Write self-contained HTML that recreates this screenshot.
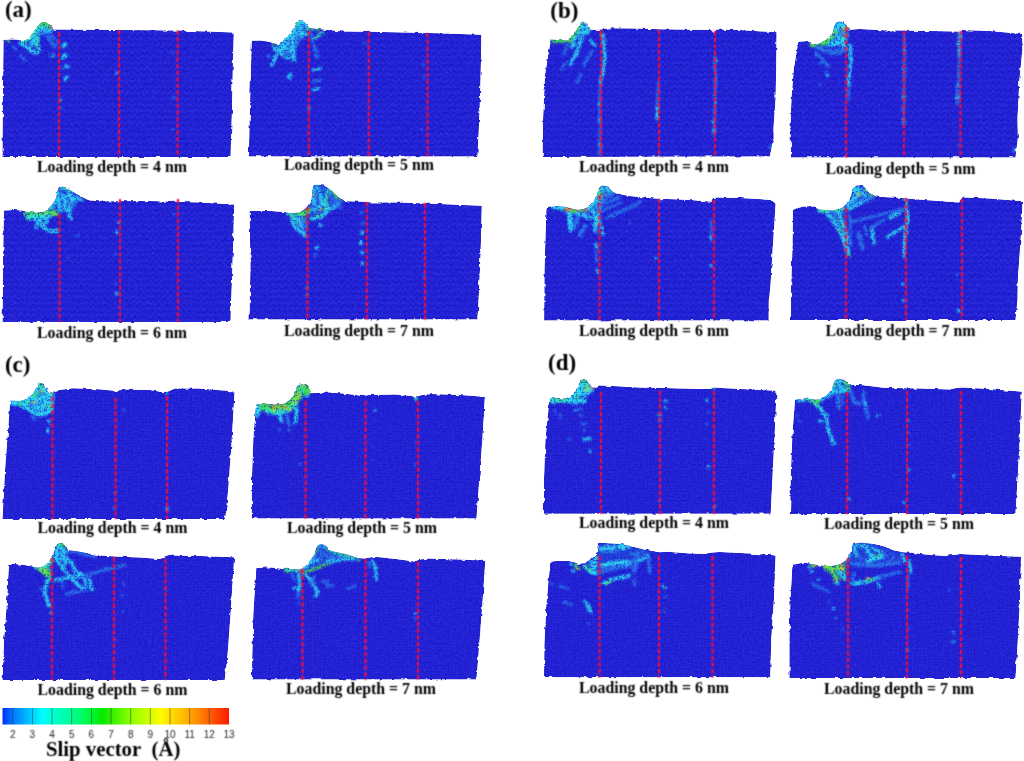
<!DOCTYPE html>
<html><head><meta charset="utf-8"><title>Slip vector figure</title>
<style>
html,body{margin:0;padding:0;background:#fff;}
body{width:1024px;height:761px;overflow:hidden;font-family:"Liberation Serif",serif;}
svg{display:block;position:absolute;left:0;top:0;}
text{filter:url(#soft);}
.cap{font-family:"Liberation Serif",serif;font-weight:bold;font-size:16.3px;fill:#000;text-anchor:middle;}
.lab{font-family:"Liberation Serif",serif;font-weight:bold;font-size:23px;fill:#000;}
.tick{font-family:"Liberation Sans",sans-serif;font-size:10px;fill:#1c1c1c;text-anchor:middle;}
.ttl{font-family:"Liberation Serif",serif;font-weight:bold;font-size:20.8px;fill:#000;}
.rl{stroke:#ff0c36;stroke-width:2.1;stroke-dasharray:4.4 2.25;fill:none;}
.ru{stroke:#b81c60;stroke-width:3.2;stroke-dasharray:5.9 0.8;stroke-dashoffset:0.65;fill:none;opacity:0.5;}
.bk{fill:#2121d3;stroke:#2121d3;stroke-width:0;}
</style></head><body>
<svg width="1024" height="761" viewBox="0 0 1024 761">
<defs>
<filter id="rough" x="-2%" y="-4%" width="104%" height="108%" color-interpolation-filters="sRGB"><feTurbulence type="fractalNoise" baseFrequency="0.17" numOctaves="2" seed="3" result="n"/><feDisplacementMap in="SourceGraphic" in2="n" scale="3.2" xChannelSelector="R" yChannelSelector="G" result="d"/><feTurbulence type="fractalNoise" baseFrequency="0.42" numOctaves="2" seed="11" result="t"/><feColorMatrix in="t" type="matrix" values="1 0 0 0 0  1 0 0 0 0  1 0 0 0 0  0 0 0 0 1" result="tg"/><feComposite in="d" in2="tg" operator="arithmetic" k1="0" k2="1" k3="0.095" k4="-0.0475" result="c"/><feComposite in="c" in2="d" operator="in"/></filter>
<filter id="b1" x="-10%" y="-10%" width="120%" height="120%" color-interpolation-filters="sRGB"><feGaussianBlur in="SourceGraphic" stdDeviation="0.95" result="b"/><feTurbulence type="fractalNoise" baseFrequency="0.5" numOctaves="2" seed="5" result="n"/><feColorMatrix in="n" type="matrix" values="0 0 0 0 1  0 0 0 0 1  0 0 0 0 1  5.5 0 0 0 -1.75" result="m"/><feComposite in="b" in2="m" operator="in" result="bm"/><feColorMatrix in="b" type="matrix" values="1 0 0 0 0  0 1 0 0 0  0 0 1 0 0  0 0 0 0.42 0" result="bf"/><feMerge><feMergeNode in="bf"/><feMergeNode in="bm"/></feMerge></filter>
<filter id="soft" x="-5%" y="-20%" width="110%" height="140%" color-interpolation-filters="sRGB"><feConvolveMatrix order="3" kernelMatrix="1 2 1 2 8 2 1 2 1" divisor="20" edgeMode="none"/></filter>
<filter id="softl" x="-5%" y="-2%" width="110%" height="104%" color-interpolation-filters="sRGB"><feConvolveMatrix order="3" kernelMatrix="1 2 1 2 7 2 1 2 1" divisor="19" edgeMode="none"/></filter>
<pattern id="tx" width="6" height="6" patternUnits="userSpaceOnUse"><rect width="6" height="6" fill="#2121d3"/><path d="M0 4.5 L3 1.5 L6 4.5" stroke="#2f2fe2" stroke-width="1.1" fill="none" opacity="0.55"/><path d="M0 7 L3 4 L6 7 M0 1 L3 -2 L6 1" stroke="#1818be" stroke-width="1" fill="none" opacity="0.45"/></pattern>
<pattern id="tg" width="3" height="3" patternUnits="userSpaceOnUse"><rect width="3" height="3" fill="#2121d3"/><circle cx="1" cy="1" r="0.8" fill="#2f2fe2" opacity="0.5"/><circle cx="2.5" cy="2.5" r="0.7" fill="#1818be" opacity="0.4"/></pattern>
<linearGradient id="cb" x1="0" x2="1" y1="0" y2="0"><stop offset="0" stop-color="#0030ff"/><stop offset="0.045" stop-color="#0078ff"/><stop offset="0.132" stop-color="#00d0ff"/><stop offset="0.175" stop-color="#00fcff"/><stop offset="0.219" stop-color="#00ffd4"/><stop offset="0.306" stop-color="#00ff94"/><stop offset="0.392" stop-color="#00f838"/><stop offset="0.44" stop-color="#04e800"/><stop offset="0.479" stop-color="#30f000"/><stop offset="0.566" stop-color="#8cff00"/><stop offset="0.653" stop-color="#d4ff00"/><stop offset="0.7" stop-color="#fffc00"/><stop offset="0.74" stop-color="#ffe000"/><stop offset="0.826" stop-color="#ffa800"/><stop offset="0.913" stop-color="#ff6000"/><stop offset="1.0" stop-color="#ff1a00"/></linearGradient>
</defs>
<rect width="1024" height="761" fill="#fff"/>
<g id="a1">
<g filter="url(#rough)">
<path class="bk" style="fill:url(#tx)" d="M3.5 40 L10 39.5 L16 39.5 L24 41 L28 38.5 L31.5 34.5 L34.5 30.5 L37 27 L40 23.3 L43 21.8 L46.5 22.5 L50 25.7 L53.5 29.5 L60 29.5 L120 30 L180 30.5 L233.8 32.6 L232.8 70 L232 110 L231.2 135 L230.6 157 L2.4 157 L2.8 100 Z"/>
<clipPath id="ca1"><path d="M3.5 40 L10 39.5 L16 39.5 L24 41 L28 38.5 L31.5 34.5 L34.5 30.5 L37 27 L40 23.3 L43 21.8 L46.5 22.5 L50 25.7 L53.5 29.5 L60 29.5 L120 30 L180 30.5 L233.8 32.6 L232.8 70 L232 110 L231.2 135 L230.6 157 L2.4 157 L2.8 100 Z"/></clipPath>
<g clip-path="url(#ca1)"><g filter="url(#b1)" fill="none" stroke-linecap="round" stroke-linejoin="round">
<polygon fill="#2cdcf2" fill-opacity="0.43" points="25,40.5 31.5,34.5 37,27 40,23.3 43,21.8 46.5,22.5 50,25.7 53.5,29.5 50,32 44,33 40,38 38,46 33,44 28,43"/>
<polygon fill="#30e8b8" fill-opacity="0.54" points="36,28 40,23.3 43,21.8 46.5,22.5 50,25.7 46,28 41,29"/>
<polyline stroke="#30e8b8" stroke-width="4.3" points="23,41.5 28,39 31.5,35.2 35,30.5 38,26.5 41,24"/>
<polyline stroke="#44e052" stroke-width="4" points="38.5,24.5 42,23 46,23.6 49.5,26.5"/>
<circle cx="51.3" cy="27.8" r="1.3" fill="#f08422"/>
<circle cx="7.9" cy="41.1" r="1.6" fill="#44e052"/>
<polyline stroke="#2cdcf2" stroke-width="2.8" points="20,43 26,46.5 31,51.5 37.5,53 38.5,47 35,42 33,37"/>
<polyline stroke="#2cdcf2" stroke-width="2.5" points="33,42 30.5,47 33,52"/>
<polyline stroke="#30e8b8" stroke-width="2.3" points="36,33 38,40 37,47"/>
<polyline stroke="#2a78ea" stroke-width="2.6" points="43.3,30.8 49,39 55.2,47.5"/>
<polyline stroke="#2a78ea" stroke-width="2.6" points="47,30 53,37.5 58,44"/>
<polyline stroke="#2cdcf2" stroke-width="2.3" points="40,29 46,31 52,30.5"/>
<circle cx="52.2" cy="55.4" r="2.3" fill="#2a78ea"/>
<polyline stroke="#2a78ea" stroke-width="2.3" points="20.7,54.4 25.6,61.3"/>
<polyline stroke="#2a78ea" stroke-width="2.3" points="13,47 16,49"/>
<circle cx="65" cy="44.6" r="2.2" fill="#2cdcf2"/>
<circle cx="63" cy="46.5" r="1.5" fill="#2cdcf2"/>
<circle cx="65" cy="55.9" r="2.3" fill="#2cdcf2"/>
<circle cx="62.3" cy="58" r="1.4" fill="#2cdcf2"/>
<circle cx="66.5" cy="66.5" r="2.1" fill="#2cdcf2"/>
<circle cx="63" cy="68" r="1.4" fill="#2a78ea"/>
<circle cx="65" cy="79" r="2.1" fill="#2cdcf2"/>
<circle cx="67.5" cy="77" r="1.3" fill="#2cdcf2"/>
<circle cx="60.5" cy="100" r="1.3" fill="#30e8b8"/>
<circle cx="61" cy="108" r="1.2" fill="#2a78ea"/>
<circle cx="116.5" cy="73" r="1.3" fill="#2cdcf2"/>
<circle cx="172.5" cy="53" r="1.2" fill="#2a78ea"/>
<circle cx="174" cy="98" r="1.2" fill="#2a78ea"/>
<circle cx="173" cy="130" r="1.2" fill="#2a78ea"/>
</g></g>
</g>
<g filter="url(#softl)">
<line class="rl" x1="59" y1="32.5" x2="59" y2="157"/>
<line class="rl" x1="119" y1="30" x2="119" y2="157"/>
<line class="rl" x1="177.5" y1="30.5" x2="177.5" y2="157"/>
</g>
<text class="cap" x="112" y="171.9" textLength="150" lengthAdjust="spacingAndGlyphs">Loading depth = 4 nm</text>
</g>
<g id="a2">
<g filter="url(#rough)">
<path class="bk" style="fill:url(#tx)" d="M251.7 40.7 L260 40.5 L267.7 41.6 L273 43 L277.5 44 L282 41.5 L287.4 36.7 L290.5 33 L293.3 28.8 L295.2 22.9 L298 21.2 L301.2 20.9 L304 21.8 L306 23.4 L309 27.8 L314 28.6 L323.8 29.5 L333.7 30.6 L343.5 31.4 L370 31.8 L430 33 L481.4 34.8 L481 60 L480 100 L478.8 130 L477.5 156.4 L248.8 156.4 L249.6 120 L250.6 80 Z"/>
<clipPath id="ca2"><path d="M251.7 40.7 L260 40.5 L267.7 41.6 L273 43 L277.5 44 L282 41.5 L287.4 36.7 L290.5 33 L293.3 28.8 L295.2 22.9 L298 21.2 L301.2 20.9 L304 21.8 L306 23.4 L309 27.8 L314 28.6 L323.8 29.5 L333.7 30.6 L343.5 31.4 L370 31.8 L430 33 L481.4 34.8 L481 60 L480 100 L478.8 130 L477.5 156.4 L248.8 156.4 L249.6 120 L250.6 80 Z"/></clipPath>
<g clip-path="url(#ca2)"><g filter="url(#b1)" fill="none" stroke-linecap="round" stroke-linejoin="round">
<polygon fill="#2cdcf2" fill-opacity="0.4" points="279,43.6 287.4,36.7 293.3,28.8 295.2,22.9 301.2,20.9 306,23.4 309,27.8 308,36 300,40 296,50 290,56 282,52 277,47"/>
<polyline stroke="#2cdcf2" stroke-width="3.7" points="279.5,43.6 284,40.5 288.3,36.7 291.5,32.5 294.3,27.8 296.2,23.5 299,21.8 302.1,21.6 305.5,23.4 308,26"/>
<circle cx="273.6" cy="44" r="1.5" fill="#44e052"/>
<circle cx="296" cy="23" r="1.5" fill="#44e052"/>
<circle cx="309" cy="28.8" r="1.6" fill="#44e052"/>
<circle cx="317.9" cy="29.8" r="1.6" fill="#44e052"/>
<circle cx="313" cy="29.2" r="1.4" fill="#30e8b8"/>
<polyline stroke="#2cdcf2" stroke-width="2.6" points="294.3,29.8 293,37 292.3,44.6 293.5,52 294.3,60.3"/>
<polyline stroke="#2cdcf2" stroke-width="2.6" points="287.4,43.6 283,48 278.5,52.4 275,58.5 271.6,65.2"/>
<polyline stroke="#2cdcf2" stroke-width="2.6" points="274.6,47.5 279.5,52 284.4,56.4 289.5,58.3 294.3,59.3"/>
<polyline stroke="#2cdcf2" stroke-width="2.3" points="296.2,31.7 300.5,33.5 304.1,34.7 308,32.7"/>
<polyline stroke="#2cdcf2" stroke-width="2.2" points="299,24 301,30 303,38"/>
<polyline stroke="#2cdcf2" stroke-width="2.2" points="281,46 287,50 292,51"/>
<polyline stroke="#2a78ea" stroke-width="2.6" points="310,32.7 312,38.5 314,44.6 316,51 317.9,57.4"/>
<polyline stroke="#30e8b8" stroke-width="2.3" points="314,38.6 318.5,35.5 322.8,32.7"/>
<circle cx="268.6" cy="56.4" r="1.9" fill="#2a78ea"/>
<circle cx="289.5" cy="76.5" r="2.2" fill="#2cdcf2"/>
<circle cx="291" cy="74.3" r="1.4" fill="#2cdcf2"/>
<polyline stroke="#2cdcf2" stroke-width="2.5" points="313.3,70 317,69.2 320.8,67.6"/>
<polyline stroke="#2a78ea" stroke-width="2.3" points="313,81.8 317,80.5 320.5,79.6"/>
<polyline stroke="#2cdcf2" stroke-width="2.3" points="312.5,90.5 316,89 319,88.2"/>
<circle cx="309" cy="108" r="1.3" fill="#30e8b8"/>
<circle cx="364.5" cy="43" r="1.2" fill="#2a78ea"/>
<circle cx="423.5" cy="65" r="1.2" fill="#2a78ea"/>
<circle cx="424" cy="77" r="1.2" fill="#2a78ea"/>
<circle cx="421.5" cy="130" r="1.2" fill="#2a78ea"/>
</g></g>
</g>
<g filter="url(#softl)">
<line class="rl" x1="308.8" y1="31" x2="308.8" y2="156"/>
<line class="rl" x1="368.8" y1="32" x2="368.8" y2="156"/>
<line class="rl" x1="427.5" y1="33" x2="427.5" y2="156"/>
</g>
<text class="cap" x="359" y="170.4" textLength="150" lengthAdjust="spacingAndGlyphs">Loading depth = 5 nm</text>
</g>
<g id="a3">
<g filter="url(#rough)">
<path class="bk" style="fill:url(#tx)" d="M3.9 210.5 L15 210 L22.7 210.5 L25.6 211.5 L32 212.5 L39.4 212.7 L46.3 210.5 L52.2 204.6 L56.2 197.7 L57.1 189.9 L58.8 187.4 L61.1 186.4 L64 186.8 L67 187.9 L72.9 191.8 L81.8 196.7 L88.7 200.2 L98.5 201.2 L150 201 L200 202.5 L234.2 204.6 L233.3 240 L232 280 L231 305 L230.6 322 L2.5 322 L3 260 Z"/>
<clipPath id="ca3"><path d="M3.9 210.5 L15 210 L22.7 210.5 L25.6 211.5 L32 212.5 L39.4 212.7 L46.3 210.5 L52.2 204.6 L56.2 197.7 L57.1 189.9 L58.8 187.4 L61.1 186.4 L64 186.8 L67 187.9 L72.9 191.8 L81.8 196.7 L88.7 200.2 L98.5 201.2 L150 201 L200 202.5 L234.2 204.6 L233.3 240 L232 280 L231 305 L230.6 322 L2.5 322 L3 260 Z"/></clipPath>
<g clip-path="url(#ca3)"><g filter="url(#b1)" fill="none" stroke-linecap="round" stroke-linejoin="round">
<polygon fill="#2cdcf2" fill-opacity="0.23" points="52.2,204.6 56.2,197.7 57.1,189.9 61.1,186.4 67,187.9 72.9,191.8 81.8,196.7 80,201 74,206 71,214 66,212 60,213 55,212"/>
<polygon fill="#30e8b8" fill-opacity="0.43" points="25.6,211.5 39.4,212.7 46.3,210.5 52.2,206 57,213 52,217 43,218 33,219 27,218"/>
<polyline stroke="#44e052" stroke-width="4.2" points="26.5,213.6 33,214.4 40,214.8 47,213.6 52.5,212 56,213.5"/>
<polyline stroke="#2cdcf2" stroke-width="2.8" points="27,216.5 34,217.5 42,217.5 50,216"/>
<polyline stroke="#30e8b8" stroke-width="3.7" points="27.6,217.4 31,218.3"/>
<circle cx="45.5" cy="213.5" r="1.3" fill="#dce232"/>
<circle cx="54.5" cy="213.8" r="1.3" fill="#dce232"/>
<circle cx="26" cy="212.2" r="1.6" fill="#44e052"/>
<polyline stroke="#2cdcf2" stroke-width="3.1" points="47,210 52.2,204.6 55.5,199"/>
<polyline stroke="#2cdcf2" stroke-width="2.9" points="39.4,219.4 41.5,223.5 43.3,227.3 47,230 51.2,231.2 55,230.8 58.1,230.2"/>
<polyline stroke="#2cdcf2" stroke-width="2.3" points="35,218 38,223 36,228"/>
<polyline stroke="#2cdcf2" stroke-width="2.5" points="43,217 47,221 45,226"/>
<polyline stroke="#2cdcf2" stroke-width="2.6" points="69,189.9 71,195 71.9,199.7 70.2,205 69,209.6 69.5,215 70.5,219.4"/>
<polyline stroke="#2cdcf2" stroke-width="2.6" points="58.1,191.8 58.3,198 59.1,204.6 60,210"/>
<polyline stroke="#30e8b8" stroke-width="2.2" points="61,187.5 65,188.3 68.5,189.8"/>
<polyline stroke="#2cdcf2" stroke-width="2.2" points="62,195 66,200 64,206 67,211"/>
<polyline stroke="#2cdcf2" stroke-width="2.2" points="60,201 65,197 69,195"/>
<polyline stroke="#2a78ea" stroke-width="2.3" points="76.8,195.8 76,200 74.9,204.6 73.5,209"/>
<polyline stroke="#2cdcf2" stroke-width="2.3" points="73,199 78,198.5 82,200"/>
<circle cx="76.8" cy="235.7" r="1.4" fill="#2a78ea"/>
<circle cx="68" cy="257" r="1.2" fill="#2a78ea"/>
<circle cx="118.5" cy="222" r="1.6" fill="#2cdcf2"/>
<circle cx="117" cy="232" r="1.7" fill="#2cdcf2"/>
<circle cx="115.5" cy="254" r="1.2" fill="#2a78ea"/>
<circle cx="116" cy="284" r="1.2" fill="#2a78ea"/>
<circle cx="116.5" cy="293.5" r="1.5" fill="#2cdcf2"/>
<circle cx="174" cy="214.5" r="1.3" fill="#2a78ea"/>
</g></g>
</g>
<g filter="url(#softl)">
<line class="rl" x1="59.5" y1="214" x2="59.5" y2="322"/>
<line class="rl" x1="120" y1="199" x2="120" y2="322"/>
<line class="rl" x1="178" y1="199" x2="178" y2="322"/>
</g>
<text class="cap" x="112" y="337.9" textLength="150" lengthAdjust="spacingAndGlyphs">Loading depth = 6 nm</text>
</g>
<g id="a4">
<g filter="url(#rough)">
<path class="bk" style="fill:url(#tx)" d="M249.6 211 L270 211 L285 212 L289.7 213 L299.6 212.5 L306.5 207.6 L311.4 199.7 L312.4 189.9 L313 186.5 L314.3 184.9 L319 184.6 L324.2 185.4 L331.1 189.9 L339 197.7 L346.8 201.2 L358.7 201.4 L368.5 202.2 L400 202.5 L440 204 L481.8 205.8 L481 240 L480 269 L478.6 300 L477.5 319.5 L249.4 319.5 L250.4 265 Z"/>
<clipPath id="ca4"><path d="M249.6 211 L270 211 L285 212 L289.7 213 L299.6 212.5 L306.5 207.6 L311.4 199.7 L312.4 189.9 L313 186.5 L314.3 184.9 L319 184.6 L324.2 185.4 L331.1 189.9 L339 197.7 L346.8 201.2 L358.7 201.4 L368.5 202.2 L400 202.5 L440 204 L481.8 205.8 L481 240 L480 269 L478.6 300 L477.5 319.5 L249.4 319.5 L250.4 265 Z"/></clipPath>
<g clip-path="url(#ca4)"><g filter="url(#b1)" fill="none" stroke-linecap="round" stroke-linejoin="round">
<polygon fill="#2cdcf2" fill-opacity="0.23" points="306.5,207.6 311.4,199.7 312.4,189.9 314.3,184.9 324.2,185.4 331.1,189.9 339,197.7 346.8,201.2 338,206 329,211 322,218 312,219 308,213"/>
<polygon fill="#30e8b8" fill-opacity="0.36" points="289.7,213.5 299.6,213 307.5,209.5 308,222 305,234 297,229 292.5,221"/>
<polyline stroke="#44e052" stroke-width="4.6" points="292.7,215 298,215.2 303.5,213.4 308.4,210.5"/>
<polyline stroke="#30e8b8" stroke-width="3.1" points="288,214 292,214.6"/>
<polyline stroke="#2a78ea" stroke-width="8.8" points="297,219 301,224 304,229"/>
<polyline stroke="#2cdcf2" stroke-width="2.6" points="294.6,217.4 293,220.5 292.7,223.3 295,227 297.6,230.2 302,233.5 306.5,236.2"/>
<polyline stroke="#2cdcf2" stroke-width="2.3" points="300,216 299,222 302,227"/>
<polyline stroke="#30e8b8" stroke-width="2.3" points="296,218.5 298,222"/>
<polyline stroke="#2cdcf2" stroke-width="2.9" points="313.3,188.9 313.6,197 314.3,204.6"/>
<circle cx="313.5" cy="194.8" r="1.3" fill="#dce232"/>
<circle cx="321.2" cy="209" r="1.3" fill="#dce232"/>
<circle cx="325.5" cy="208.3" r="1.2" fill="#dce232"/>
<polyline stroke="#2cdcf2" stroke-width="2.6" points="317.3,185.9 319.5,193 321.2,199.7 323.5,205 325.2,209.6"/>
<polyline stroke="#30e8b8" stroke-width="2.6" points="329.1,189.9 327,195 325.2,199.7 326.5,204.5 328.1,208.6"/>
<polyline stroke="#44e052" stroke-width="2.9" points="317,216.3 319.3,216.5 322,215.5"/>
<polyline stroke="#2cdcf2" stroke-width="2.6" points="311.4,218.4 316,218.6 321.2,217.4 325.5,213.5 329.1,209.6 334,206.8 339,204.6"/>
<polyline stroke="#44e052" stroke-width="2.5" points="331,190.3 335,194.5 339,198.7"/>
<polyline stroke="#2cdcf2" stroke-width="2.2" points="313,210 318,208 322,203"/>
<polyline stroke="#2a78ea" stroke-width="2.3" points="333,200 336,205 341,208"/>
<circle cx="320.2" cy="225.3" r="1.5" fill="#2cdcf2"/>
<circle cx="317.3" cy="247.5" r="1.7" fill="#2cdcf2"/>
<circle cx="315" cy="256" r="1.4" fill="#2a78ea"/>
<circle cx="361.6" cy="212.5" r="1.7" fill="#2a78ea"/>
<circle cx="362.6" cy="223.3" r="1.7" fill="#2a78ea"/>
<circle cx="361.6" cy="232.7" r="1.9" fill="#2cdcf2"/>
<circle cx="361.1" cy="243" r="2.1" fill="#2cdcf2"/>
<circle cx="362.1" cy="252.9" r="1.9" fill="#2cdcf2"/>
<circle cx="362.5" cy="263" r="1.7" fill="#2cdcf2"/>
<circle cx="307" cy="287.5" r="1.2" fill="#30e8b8"/>
<circle cx="307" cy="295" r="1.2" fill="#30e8b8"/>
<circle cx="424" cy="276" r="1.2" fill="#2a78ea"/>
</g></g>
</g>
<g filter="url(#softl)">
<line class="rl" x1="307.5" y1="207" x2="307.5" y2="319.5"/>
<line class="rl" x1="366.8" y1="202" x2="366.8" y2="319.5"/>
<line class="rl" x1="425" y1="203" x2="425" y2="319.5"/>
</g>
<text class="cap" x="359" y="336.4" textLength="150" lengthAdjust="spacingAndGlyphs">Loading depth = 7 nm</text>
</g>
<g id="b1">
<g filter="url(#rough)">
<path class="bk" style="fill:url(#tx)" d="M550.8 39.6 L560 40 L567.6 40.6 L573.5 34.7 L578.4 26.8 L580.5 23.3 L582.4 21.4 L585 22 L587.3 23.9 L591.2 29.8 L599.1 29.8 L609 28.2 L638.5 28.6 L660 29.3 L711 30 L713 32 L716 29.5 L740 30 L776.6 32.3 L776.2 70 L775.6 99 L773.5 128 L773.8 138 L771.5 148 L769.8 156.5 L542.5 157 L543 120 L545 75 Z"/>
<clipPath id="cb1"><path d="M550.8 39.6 L560 40 L567.6 40.6 L573.5 34.7 L578.4 26.8 L580.5 23.3 L582.4 21.4 L585 22 L587.3 23.9 L591.2 29.8 L599.1 29.8 L609 28.2 L638.5 28.6 L660 29.3 L711 30 L713 32 L716 29.5 L740 30 L776.6 32.3 L776.2 70 L775.6 99 L773.5 128 L773.8 138 L771.5 148 L769.8 156.5 L542.5 157 L543 120 L545 75 Z"/></clipPath>
<g clip-path="url(#cb1)"><g filter="url(#b1)" fill="none" stroke-linecap="round" stroke-linejoin="round">
<polygon fill="#2cdcf2" fill-opacity="0.43" points="569,40.5 573.5,34.7 578.4,26.8 582.4,21.4 587.3,23.9 591.2,29.8 588,34 582,37 576,40 572,43"/>
<polyline stroke="#44e052" stroke-width="3.7" points="553.8,40.8 561,41 569.6,40.2 574,35.5 577,30.5 579.4,26.8 582,23.2"/>
<polyline stroke="#2cdcf2" stroke-width="4" points="581,27 584,25 587,27 589.5,29.8"/>
<polyline stroke="#dce232" stroke-width="2.2" points="588.3,24.3 590.7,28.8"/>
<polyline stroke="#2cdcf2" stroke-width="2.6" points="578,32 584,33 590,32"/>
<polyline stroke="#2cdcf2" stroke-width="2.6" points="582.4,37.7 579.5,45 576.5,52.4 573.5,58.5 570.5,64.3"/>
<polyline stroke="#2a78ea" stroke-width="2.6" points="592.2,50.5 589.8,54.5 587.3,58.3 585.3,62 583.3,65.2"/>
<circle cx="574.5" cy="44.6" r="1.6" fill="#2cdcf2"/>
<circle cx="577" cy="52.4" r="1.6" fill="#2cdcf2"/>
<polyline stroke="#2cdcf2" stroke-width="2.2" points="590,40 593.2,43.6 595,45"/>
<polyline stroke="#2cdcf2" stroke-width="2.2" points="576,36 573,42 571,47"/>
<polyline stroke="#2a78ea" stroke-width="2.2" points="567.6,44.6 565.5,50 563.6,54.4"/>
<polyline stroke="#2a78ea" stroke-width="1.9" points="581.4,74 578.8,79 576.5,83"/>
<polyline stroke="#2a78ea" stroke-width="1.9" points="566,62 562,70"/>
<circle cx="601" cy="34.7" r="1.3" fill="#f08422"/>
<polyline stroke="#2cdcf2" stroke-width="2.6" points="603,34.7 603.6,41 604,47.5 604.6,53 605,59.3 604.2,65 603,70.2 601.5,77 600,84"/>
<circle cx="605" cy="59.3" r="1.6" fill="#30e8b8"/>
<polyline stroke="#2a78ea" stroke-width="2.2" points="600,84 599.5,100 600,120 599.5,140 600,155"/>
<circle cx="599.5" cy="120" r="1.4" fill="#2cdcf2"/>
<circle cx="600" cy="145" r="1.4" fill="#2cdcf2"/>
<circle cx="599" cy="104" r="1.3" fill="#30e8b8"/>
<polyline stroke="#2a78ea" stroke-width="2.2" points="658.5,82 658,95 657.5,106"/>
<polyline stroke="#2cdcf2" stroke-width="2.8" points="657.5,107 656.8,113 657.6,119"/>
<polyline stroke="#2a78ea" stroke-width="2.2" points="715,57 715.6,75 715,95 714.6,115 714,135"/>
<circle cx="715.6" cy="60" r="1.4" fill="#2cdcf2"/>
<circle cx="715" cy="80" r="1.4" fill="#2cdcf2"/>
<circle cx="714.8" cy="103" r="1.4" fill="#2cdcf2"/>
<circle cx="714" cy="122" r="1.5" fill="#30e8b8"/>
<circle cx="713.6" cy="131" r="1.6" fill="#2cdcf2"/>
<circle cx="771.2" cy="147.5" r="1.6" fill="#2cdcf2"/>
</g></g>
</g>
<g filter="url(#softl)">
<line class="rl" x1="601" y1="30" x2="601" y2="157"/>
<line class="rl" x1="659" y1="30" x2="659" y2="157"/>
<line class="rl" x1="715" y1="31" x2="715" y2="157"/>
</g>
<text class="cap" x="654" y="172.4" textLength="150" lengthAdjust="spacingAndGlyphs">Loading depth = 4 nm</text>
</g>
<g id="b2">
<g filter="url(#rough)">
<path class="bk" style="fill:url(#tx)" d="M798.3 41.7 L807.7 41.1 L812.6 44.6 L819.5 43.6 L826.4 39.6 L832.3 33.7 L834.3 25.8 L836 22.8 L838.7 21.4 L841.5 21.8 L844.1 22.9 L848.5 28.3 L850 29.8 L859.9 29 L883.5 30.3 L904 30.5 L958 31.5 L960 33 L962 30 L990 31 L1021 33.8 L1022.3 36 L1022.4 50 L1019.5 79 L1017.5 118.5 L1017.9 138 L1015.5 157.5 L791 157.5 L790.4 128.5 L791.4 99 L793.8 69 Z"/>
<clipPath id="cb2"><path d="M798.3 41.7 L807.7 41.1 L812.6 44.6 L819.5 43.6 L826.4 39.6 L832.3 33.7 L834.3 25.8 L836 22.8 L838.7 21.4 L841.5 21.8 L844.1 22.9 L848.5 28.3 L850 29.8 L859.9 29 L883.5 30.3 L904 30.5 L958 31.5 L960 33 L962 30 L990 31 L1021 33.8 L1022.3 36 L1022.4 50 L1019.5 79 L1017.5 118.5 L1017.9 138 L1015.5 157.5 L791 157.5 L790.4 128.5 L791.4 99 L793.8 69 Z"/></clipPath>
<g clip-path="url(#cb2)"><g filter="url(#b1)" fill="none" stroke-linecap="round" stroke-linejoin="round">
<polygon fill="#2cdcf2" fill-opacity="0.43" points="819.5,44 826.4,39.6 832.3,33.7 834.3,25.8 838.7,21.4 844.1,22.9 848.5,28.3 848,40 844,46 836,47 828,47"/>
<polyline stroke="#44e052" stroke-width="4.3" points="811.6,44.8 819.5,44.6 827.4,40.8 831.5,36.5 834.3,32.7"/>
<polyline stroke="#2cdcf2" stroke-width="4.6" points="836,30 838,25 842,24.5 845,28"/>
<circle cx="836.2" cy="31.7" r="1.7" fill="#44e052"/>
<circle cx="843.5" cy="38.5" r="1.6" fill="#44e052"/>
<circle cx="843.5" cy="29.3" r="1.5" fill="#dce232"/>
<circle cx="847.3" cy="27.6" r="1.6" fill="#f08422"/>
<circle cx="845.6" cy="34" r="1.3" fill="#dce232"/>
<polyline stroke="#2cdcf2" stroke-width="3.7" points="829.3,44.6 835,43.5 840,41.5 844.1,40.6"/>
<polyline stroke="#2cdcf2" stroke-width="2.5" points="837,34 840,38 844,44 846,50"/>
<polyline stroke="#2a78ea" stroke-width="4" points="817.5,47 824,50.5 831,52.5 838,52 844,50"/>
<polyline stroke="#2a78ea" stroke-width="2.8" points="816,53 822,59 828,66"/>
<polyline stroke="#2cdcf2" stroke-width="2.6" points="850,44.6 850.6,52 851,59.3 850.2,68 849,76 848.5,85"/>
<polyline stroke="#2a78ea" stroke-width="2" points="848,88 848,100"/>
<circle cx="827.4" cy="75" r="1.6" fill="#2cdcf2"/>
<circle cx="826.5" cy="72" r="1.4" fill="#2a78ea"/>
<circle cx="816.5" cy="55.4" r="1.4" fill="#2a78ea"/>
<circle cx="820.5" cy="63.3" r="1.4" fill="#2a78ea"/>
<circle cx="820" cy="84" r="1.3" fill="#2a78ea"/>
<polyline stroke="#2a78ea" stroke-width="2.2" points="904,35 904.5,55 904,75 903.6,97 903.4,125"/>
<circle cx="904.6" cy="50" r="1.4" fill="#2cdcf2"/>
<circle cx="904.2" cy="72" r="1.4" fill="#2cdcf2"/>
<circle cx="903.5" cy="97" r="1.6" fill="#30e8b8"/>
<circle cx="903.4" cy="120" r="1.5" fill="#2cdcf2"/>
<polyline stroke="#2cdcf2" stroke-width="2.3" points="959.8,32 959.5,45 959,57"/>
<polyline stroke="#2a78ea" stroke-width="2.2" points="959,57 958.8,75 958.2,90 957.6,105"/>
<circle cx="958.8" cy="85" r="1.4" fill="#2cdcf2"/>
<circle cx="957.3" cy="97" r="1.7" fill="#2cdcf2"/>
<circle cx="958" cy="145" r="1.3" fill="#2a78ea"/>
<circle cx="1014.5" cy="150" r="1.6" fill="#2cdcf2"/>
</g></g>
</g>
<g filter="url(#softl)">
<line class="rl" x1="846" y1="27" x2="846" y2="157.5"/>
<line class="rl" x1="904" y1="31" x2="904" y2="157.5"/>
<line class="rl" x1="960.5" y1="31" x2="960.5" y2="157.5"/>
</g>
<text class="cap" x="900.5" y="174.4" textLength="150" lengthAdjust="spacingAndGlyphs">Loading depth = 5 nm</text>
</g>
<g id="b3">
<g filter="url(#rough)">
<path class="bk" style="fill:url(#tx)" d="M546.4 208.7 L551 207 L556.6 206.1 L565.5 206.8 L572 208.5 L578.2 210 L587.2 208 L593.5 201.7 L597.4 192.7 L599 188 L601.2 185.7 L604.5 185.6 L607.6 186.4 L612.6 191.5 L616.5 193.4 L629.2 195.9 L642 197.2 L654.7 198.5 L667.5 198.9 L690 200 L711 201.5 L713 198 L716 197.5 L740 198 L772.5 200 L775.6 204 L774.3 225 L772.7 249 L770.3 288.6 L768.8 300.5 L768.7 320.5 L544.1 320.5 L544.5 269 L545.5 235 Z"/>
<clipPath id="cb3"><path d="M546.4 208.7 L551 207 L556.6 206.1 L565.5 206.8 L572 208.5 L578.2 210 L587.2 208 L593.5 201.7 L597.4 192.7 L599 188 L601.2 185.7 L604.5 185.6 L607.6 186.4 L612.6 191.5 L616.5 193.4 L629.2 195.9 L642 197.2 L654.7 198.5 L667.5 198.9 L690 200 L711 201.5 L713 198 L716 197.5 L740 198 L772.5 200 L775.6 204 L774.3 225 L772.7 249 L770.3 288.6 L768.8 300.5 L768.7 320.5 L544.1 320.5 L544.5 269 L545.5 235 Z"/></clipPath>
<g clip-path="url(#cb3)"><g filter="url(#b1)" fill="none" stroke-linecap="round" stroke-linejoin="round">
<polygon fill="#2cdcf2" fill-opacity="0.36" points="587.2,208 593.5,201.7 597.4,192.7 601.2,185.7 607.6,186.4 612.6,191.5 616.5,193.4 610,198 602,203 598,212 592,213"/>
<polygon fill="#2cdcf2" fill-opacity="0.29" points="556,206.5 566,207 578.2,210.3 587.2,208.3 590,213 580,216 568,214 558,210"/>
<polyline stroke="#2cdcf2" stroke-width="3.4" points="552,207.5 559.1,207.2 565,208.3"/>
<polyline stroke="#f08422" stroke-width="3.4" points="567,209.3 570.6,209.8"/>
<polyline stroke="#44e052" stroke-width="3.4" points="573,210.5 576,211"/>
<circle cx="578.2" cy="210.6" r="1.6" fill="#ea3020"/>
<circle cx="581.5" cy="210.6" r="1.7" fill="#44e052"/>
<circle cx="585.9" cy="209.4" r="1.9" fill="#f08422"/>
<polyline stroke="#2cdcf2" stroke-width="3.7" points="589,207.5 593.5,203 596.5,198.5"/>
<polyline stroke="#30e8b8" stroke-width="3.4" points="598,195 599.9,190 602,187.3"/>
<circle cx="602.5" cy="195" r="1.7" fill="#f08422"/>
<circle cx="599.7" cy="194" r="1.4" fill="#44e052"/>
<polyline stroke="#2cdcf2" stroke-width="2.8" points="604,187.5 608,189.5 611.5,192.5"/>
<polyline stroke="#2cdcf2" stroke-width="4.3" points="569.3,213.1 570,221 570.6,229"/>
<polyline stroke="#2a78ea" stroke-width="3.7" points="578.2,215.7 576,222 574.4,228.4"/>
<polyline stroke="#2a78ea" stroke-width="4" points="584.6,225.9 582.6,230.5 580.8,234.8"/>
<polyline stroke="#2cdcf2" stroke-width="2.8" points="577,212.5 583,215 589,217.5 595,219"/>
<polyline stroke="#2cdcf2" stroke-width="2.8" points="590,209 594,213 597,218"/>
<polyline stroke="#2a78ea" stroke-width="3.4" points="593,224 596,228 597,232"/>
<polyline stroke="#2cdcf2" stroke-width="2.6" points="599.9,199.1 599.4,212 598.6,224.6"/>
<polyline stroke="#2cdcf2" stroke-width="2.6" points="596.5,215 595.6,224 594.8,231"/>
<circle cx="602.5" cy="233.5" r="2.1" fill="#2cdcf2"/>
<circle cx="601.5" cy="228" r="1.7" fill="#2cdcf2"/>
<polyline stroke="#2cdcf2" stroke-width="2.2" points="596.1,243.7 596.5,250"/>
<polyline stroke="#2a78ea" stroke-width="2" points="596.5,250 597,262"/>
<polyline stroke="#2cdcf2" stroke-width="2.3" points="596.9,269.5 597.5,273"/>
<polyline stroke="#2a78ea" stroke-width="2.6" points="601.2,205.5 610,201.5 619,197.8"/>
<polyline stroke="#2a78ea" stroke-width="2.6" points="606.3,218.2 617,213 629.2,208 640.7,201.7"/>
<polyline stroke="#2a78ea" stroke-width="2.2" points="603,211 612,206.5 622,202.5"/>
<circle cx="656" cy="257.7" r="1.4" fill="#2cdcf2"/>
<circle cx="630" cy="223" r="1.2" fill="#2a78ea"/>
<polyline stroke="#2a78ea" stroke-width="2" points="711.5,220 711,232 710.6,242.5"/>
<circle cx="711" cy="266" r="1.4" fill="#2cdcf2"/>
<circle cx="710.5" cy="238" r="1.3" fill="#2cdcf2"/>
<circle cx="660" cy="199.5" r="1.4" fill="#2cdcf2"/>
</g></g>
</g>
<g filter="url(#softl)">
<line class="rl" x1="599.5" y1="196" x2="599.5" y2="320.5"/>
<line class="rl" x1="659" y1="199" x2="659" y2="320.5"/>
<line class="rl" x1="714" y1="200" x2="714" y2="320.5"/>
</g>
<text class="cap" x="654" y="336.4" textLength="150" lengthAdjust="spacingAndGlyphs">Loading depth = 6 nm</text>
</g>
<g id="b4">
<g filter="url(#rough)">
<path class="bk" style="fill:url(#tx)" d="M793 210 L797 208 L801.6 206.8 L810.5 206.1 L819.4 209.3 L826 210.3 L833.4 210.6 L842.4 207.4 L848.7 201.7 L851.9 192.7 L853.6 188 L856.4 185.4 L860 185.2 L864 186.4 L869.1 192.7 L876.8 196.6 L887 197.2 L899.7 197.8 L912.5 198.9 L945 201.5 L959 202.5 L961 199 L964 197.5 L990 198.5 L1021 201 L1022.4 203 L1021.8 220 L1020 249 L1017.9 279 L1017.5 300 L1015.5 320 L791 320 L791 288.6 L792.4 249 Z"/>
<clipPath id="cb4"><path d="M793 210 L797 208 L801.6 206.8 L810.5 206.1 L819.4 209.3 L826 210.3 L833.4 210.6 L842.4 207.4 L848.7 201.7 L851.9 192.7 L853.6 188 L856.4 185.4 L860 185.2 L864 186.4 L869.1 192.7 L876.8 196.6 L887 197.2 L899.7 197.8 L912.5 198.9 L945 201.5 L959 202.5 L961 199 L964 197.5 L990 198.5 L1021 201 L1022.4 203 L1021.8 220 L1020 249 L1017.9 279 L1017.5 300 L1015.5 320 L791 320 L791 288.6 L792.4 249 Z"/></clipPath>
<g clip-path="url(#cb4)"><g filter="url(#b1)" fill="none" stroke-linecap="round" stroke-linejoin="round">
<polygon fill="#2cdcf2" fill-opacity="0.32" points="842.4,207.4 848.7,201.7 851.9,192.7 856.4,185.4 864,186.4 869.1,192.7 876.8,196.6 868,200 858,205 850,210 846,212"/>
<polygon fill="#2cdcf2" fill-opacity="0.32" points="822,210.5 833.4,211 845,208.5 846,225 848.7,250 842,236 834,222"/>
<polyline stroke="#30e8b8" stroke-width="3.7" points="819.4,210 826,211.2 833.4,211.5 842.4,208.7"/>
<circle cx="826.5" cy="210.3" r="1.5" fill="#44e052"/>
<circle cx="833.4" cy="213.8" r="1.4" fill="#ea3020"/>
<circle cx="836.5" cy="209.5" r="1.4" fill="#44e052"/>
<polyline stroke="#2a78ea" stroke-width="7.3" points="832,214 838,222 843,230"/>
<polyline stroke="#2cdcf2" stroke-width="2.8" points="827.1,213.1 834,223 841.1,233.5 845,244 848.7,255.2"/>
<polyline stroke="#2cdcf2" stroke-width="2.6" points="838,212 842,222 846,232 848,242"/>
<circle cx="837.3" cy="219.5" r="1.6" fill="#44e052"/>
<circle cx="839.8" cy="231" r="1.6" fill="#44e052"/>
<circle cx="848.7" cy="255.2" r="1.4" fill="#44e052"/>
<circle cx="842.5" cy="226" r="1.4" fill="#44e052"/>
<polyline stroke="#2cdcf2" stroke-width="3.1" points="853.8,187.6 855.3,191.5 856.4,195.3 852.5,200.5 848.7,205.5"/>
<circle cx="858.9" cy="194" r="1.5" fill="#dce232"/>
<circle cx="871.7" cy="194.7" r="1.7" fill="#44e052"/>
<circle cx="866" cy="189.5" r="1.4" fill="#44e052"/>
<polyline stroke="#2cdcf2" stroke-width="2.6" points="848.7,209.3 858,204.5 869.1,199.1"/>
<polyline stroke="#2cdcf2" stroke-width="2.3" points="857,188 862,192 866,196"/>
<polyline stroke="#2a78ea" stroke-width="2.5" points="852,203 862,199.5 874,198"/>
<polyline stroke="#2a78ea" stroke-width="2.8" points="851.3,222 870,217 888,213 904.8,209.3"/>
<polyline stroke="#2cdcf2" stroke-width="2.5" points="889.5,218.2 894.5,215.5 899.7,213.1"/>
<polyline stroke="#2cdcf2" stroke-width="2.5" points="887,237.4 895,232 903.5,227.2"/>
<polyline stroke="#2cdcf2" stroke-width="2.5" points="871.7,228.4 873,236 874.2,243.7"/>
<polyline stroke="#2a78ea" stroke-width="3.4" points="858.9,233.5 860.8,241 862.7,248.8"/>
<polyline stroke="#2a78ea" stroke-width="2.5" points="872.9,227.2 878.5,223 884.4,219.5"/>
<polyline stroke="#2a78ea" stroke-width="2.3" points="865,226 866.5,235"/>
<polyline stroke="#2a78ea" stroke-width="2" points="849.5,215 850.5,230 851,246"/>
<circle cx="905.4" cy="199.1" r="2" fill="#30e8b8"/>
<polyline stroke="#2cdcf2" stroke-width="2.6" points="906.7,201.7 907.2,210 907.4,218.2 906,228 904.8,237.4 904.4,247 904.2,256.5"/>
<circle cx="907.4" cy="218.2" r="1.4" fill="#30e8b8"/>
<circle cx="904.6" cy="240" r="1.4" fill="#30e8b8"/>
<circle cx="904" cy="284" r="1.4" fill="#2cdcf2"/>
<circle cx="904" cy="301" r="1.5" fill="#2cdcf2"/>
<circle cx="959" cy="311" r="1.5" fill="#2cdcf2"/>
<circle cx="957" cy="275" r="1.2" fill="#2a78ea"/>
</g></g>
</g>
<g filter="url(#softl)">
<line class="rl" x1="846" y1="208" x2="846" y2="320"/>
<line class="rl" x1="906" y1="198" x2="906" y2="320"/>
<line class="rl" x1="962" y1="199" x2="962" y2="320"/>
</g>
<text class="cap" x="900.5" y="336.4" textLength="150" lengthAdjust="spacingAndGlyphs">Loading depth = 7 nm</text>
</g>
<g id="c1">
<g filter="url(#rough)">
<path class="bk" style="fill:url(#tg)" d="M10.3 400.6 L19.7 401.1 L27.6 398.6 L33.5 392.7 L37.4 385.8 L39.3 383.6 L41.4 382.9 L43.5 383.8 L45.3 385.8 L48.3 391.3 L53.2 392.7 L57.1 391.3 L61.1 389.8 L72.9 388.3 L98.5 389.3 L112 390.5 L116 392 L122 389.5 L150 390 L162 392 L168 391.5 L175 388.5 L200 388.5 L234.6 391.4 L231.2 449 L228.3 488.5 L225.3 519 L2.5 519 L5 470 L8 430 Z"/>
<clipPath id="cc1"><path d="M10.3 400.6 L19.7 401.1 L27.6 398.6 L33.5 392.7 L37.4 385.8 L39.3 383.6 L41.4 382.9 L43.5 383.8 L45.3 385.8 L48.3 391.3 L53.2 392.7 L57.1 391.3 L61.1 389.8 L72.9 388.3 L98.5 389.3 L112 390.5 L116 392 L122 389.5 L150 390 L162 392 L168 391.5 L175 388.5 L200 388.5 L234.6 391.4 L231.2 449 L228.3 488.5 L225.3 519 L2.5 519 L5 470 L8 430 Z"/></clipPath>
<g clip-path="url(#cc1)"><g filter="url(#b1)" fill="none" stroke-linecap="round" stroke-linejoin="round">
<polygon fill="#2cdcf2" fill-opacity="0.47" points="12,401 19.7,401.1 27.6,398.6 33.5,392.7 37.4,385.8 41.4,382.9 45.3,385.8 48.3,391.3 52.5,393 52.5,411 46,415 38,416 30,411 22,406 13,404"/>
<polyline stroke="#2cdcf2" stroke-width="5.3" points="12,402.3 20,403 27,401 32,396.5 36,391 38.5,387"/>
<polyline stroke="#2cdcf2" stroke-width="5.6" points="40,386 44,388 47,392.5 50,395 51,401 50.5,409"/>
<polyline stroke="#2cdcf2" stroke-width="4" points="22,405 28,408 34,412.5 40,415 46,413 50.5,410"/>
<polyline stroke="#2cdcf2" stroke-width="3.7" points="33,398 38,400 43,397 46,402 42,408 36,406"/>
<circle cx="41.4" cy="384.9" r="2.2" fill="#44e052"/>
<circle cx="42.4" cy="390.8" r="1.5" fill="#dce232"/>
<circle cx="34.5" cy="395.7" r="1.7" fill="#44e052"/>
<circle cx="33.5" cy="402.6" r="1.4" fill="#dce232"/>
<circle cx="20.7" cy="404" r="1.7" fill="#44e052"/>
<circle cx="48.3" cy="407" r="1.9" fill="#44e052"/>
<circle cx="52.2" cy="392.2" r="1.4" fill="#dce232"/>
<circle cx="38" cy="393" r="1.5" fill="#44e052"/>
<circle cx="28.5" cy="402" r="1.4" fill="#44e052"/>
<polyline stroke="#2a78ea" stroke-width="2.3" points="32,416 35,420"/>
<circle cx="49.3" cy="421.3" r="1.5" fill="#2cdcf2"/>
<polyline stroke="#2cdcf2" stroke-width="2.8" points="48.3,429.5 48.5,432"/>
<circle cx="124" cy="410" r="1.3" fill="#2a78ea"/>
<circle cx="167.5" cy="509" r="1.9" fill="#2cdcf2"/>
<circle cx="114" cy="507.5" r="1.3" fill="#2a78ea"/>
<circle cx="115.5" cy="492.5" r="1.2" fill="#2a78ea"/>
<circle cx="166.3" cy="393.5" r="1.2" fill="#30e8b8"/>
</g></g>
</g>
<g filter="url(#softl)">
<line class="rl" x1="52.5" y1="397" x2="52.5" y2="519"/>
<line class="rl" x1="115.5" y1="398" x2="115.5" y2="519"/>
<line class="rl" x1="167" y1="396" x2="167" y2="519"/>
</g>
<text class="cap" x="112.5" y="532.9" textLength="150" lengthAdjust="spacingAndGlyphs">Loading depth = 4 nm</text>
</g>
<g id="c2">
<g filter="url(#rough)">
<path class="bk" style="fill:url(#tg)" d="M255.9 404.7 L261.7 403.1 L274.6 404.6 L284.4 403.6 L290.3 399.6 L295.2 391.7 L297.2 384.9 L300 383.4 L303.1 383.2 L306 384 L308.1 385.8 L310 392.7 L314 393.2 L323.8 391.9 L343.5 393.5 L364 396 L370 395 L395 394.5 L412 396 L416 398 L422 395 L432 394 L460 395 L484.9 396.7 L482.4 439 L479.4 478.5 L476.5 518.5 L251.7 518.5 L251.9 478.6 L253.3 439 Z"/>
<clipPath id="cc2"><path d="M255.9 404.7 L261.7 403.1 L274.6 404.6 L284.4 403.6 L290.3 399.6 L295.2 391.7 L297.2 384.9 L300 383.4 L303.1 383.2 L306 384 L308.1 385.8 L310 392.7 L314 393.2 L323.8 391.9 L343.5 393.5 L364 396 L370 395 L395 394.5 L412 396 L416 398 L422 395 L432 394 L460 395 L484.9 396.7 L482.4 439 L479.4 478.5 L476.5 518.5 L251.7 518.5 L251.9 478.6 L253.3 439 Z"/></clipPath>
<g clip-path="url(#cc2)"><g filter="url(#b1)" fill="none" stroke-linecap="round" stroke-linejoin="round">
<polygon fill="#44e052" fill-opacity="0.5" points="258,404.8 274.6,404.6 284.4,403.6 290.3,399.6 295.2,391.7 297.2,384.9 303.1,383.2 308.1,385.8 309.5,392 304,396 299,401 296,408 288,412 276,413 266,411 258,409"/>
<polyline stroke="#44e052" stroke-width="7.4" points="260,406 268,407.3 276,408.5 284,407.8 290.5,404.5 294.5,399.5 297.5,393.5"/>
<polyline stroke="#44e052" stroke-width="6.8" points="299,390 301.5,387 305.5,387.8 307.5,391.5"/>
<polyline stroke="#2cdcf2" stroke-width="4.3" points="257.5,406 258,411 257,415"/>
<polyline stroke="#30e8b8" stroke-width="4" points="266,410.5 274,412.5 282,412 290,409.5 296,404"/>
<circle cx="272.6" cy="406.5" r="1.7" fill="#f08422"/>
<circle cx="284.4" cy="407.5" r="1.7" fill="#f08422"/>
<circle cx="274.6" cy="410" r="1.7" fill="#dce232"/>
<circle cx="289.3" cy="409.5" r="1.6" fill="#dce232"/>
<circle cx="296.2" cy="399.6" r="1.9" fill="#dce232"/>
<circle cx="298.2" cy="394.7" r="1.7" fill="#dce232"/>
<circle cx="303.1" cy="384.9" r="1.5" fill="#dce232"/>
<circle cx="279" cy="405.5" r="1.3" fill="#f08422"/>
<circle cx="293" cy="403" r="1.4" fill="#dce232"/>
<circle cx="300.5" cy="385.5" r="1.9" fill="#2cdcf2"/>
<circle cx="302" cy="391" r="1.7" fill="#2cdcf2"/>
<circle cx="306" cy="396" r="1.6" fill="#2cdcf2"/>
<polyline stroke="#2cdcf2" stroke-width="3.1" points="278.5,413.4 280.2,417.5 281.5,421.3"/>
<polyline stroke="#2cdcf2" stroke-width="2.9" points="297.2,408.5 296.3,416 295.2,423.3"/>
<polyline stroke="#2a78ea" stroke-width="2.8" points="286,412 288,420 289,426"/>
<circle cx="279.5" cy="429.7" r="1.5" fill="#2a78ea"/>
<circle cx="289.3" cy="429.2" r="1.4" fill="#2a78ea"/>
<circle cx="294.3" cy="424.3" r="1.4" fill="#2a78ea"/>
<circle cx="269" cy="414" r="1.3" fill="#2a78ea"/>
<circle cx="375" cy="410" r="1.2" fill="#2cdcf2"/>
<circle cx="374.5" cy="420" r="0.9" fill="#2a55e2"/>
<circle cx="373.5" cy="432" r="0.9" fill="#2a55e2"/>
<circle cx="373" cy="446" r="0.9" fill="#2a55e2"/>
<circle cx="372" cy="460" r="0.9" fill="#2a55e2"/>
<circle cx="416" cy="399" r="1.7" fill="#30e8b8"/>
<circle cx="300" cy="464" r="1.2" fill="#2a78ea"/>
<circle cx="415" cy="441" r="1.2" fill="#2a78ea"/>
<circle cx="415" cy="465" r="1.2" fill="#2a78ea"/>
</g></g>
</g>
<g filter="url(#softl)">
<line class="rl" x1="305.5" y1="401" x2="305.5" y2="519"/>
<line class="rl" x1="365.5" y1="401" x2="365.5" y2="519"/>
<line class="rl" x1="418" y1="401" x2="418" y2="519"/>
</g>
<text class="cap" x="362" y="533.4" textLength="150" lengthAdjust="spacingAndGlyphs">Loading depth = 5 nm</text>
</g>
<g id="c3">
<g filter="url(#rough)">
<path class="bk" style="fill:url(#tg)" d="M8.9 565.6 L12.7 563.7 L25.5 565 L38.2 567.5 L43 566.5 L47.2 563.7 L52.3 556.7 L55.4 547.7 L57.2 545 L59.9 543.9 L63.3 544.3 L66.3 545.8 L69.5 550.3 L79 551.6 L89.2 553.5 L102 555.4 L114.7 556.4 L140 557.5 L160 559 L166 557 L172 555.5 L200 556 L234.2 557.3 L230.6 614 L227.7 653.5 L224.7 680 L2.5 680 L4 640 L7 600 Z"/>
<clipPath id="cc3"><path d="M8.9 565.6 L12.7 563.7 L25.5 565 L38.2 567.5 L43 566.5 L47.2 563.7 L52.3 556.7 L55.4 547.7 L57.2 545 L59.9 543.9 L63.3 544.3 L66.3 545.8 L69.5 550.3 L79 551.6 L89.2 553.5 L102 555.4 L114.7 556.4 L140 557.5 L160 559 L166 557 L172 555.5 L200 556 L234.2 557.3 L230.6 614 L227.7 653.5 L224.7 680 L2.5 680 L4 640 L7 600 Z"/></clipPath>
<g clip-path="url(#cc3)"><g filter="url(#b1)" fill="none" stroke-linecap="round" stroke-linejoin="round">
<polygon fill="#30e8b8" fill-opacity="0.4" points="37,567.5 43,566.5 47.2,563.7 51.5,558 51.5,578 49,583 45,576 41,571"/>
<polygon fill="#2cdcf2" fill-opacity="0.32" points="52.3,556.7 55.4,547.7 59.9,543.9 66.3,545.8 69.5,550.3 66,554 60,556 56,560"/>
<polyline stroke="#44e052" stroke-width="5.9" points="40,568.5 44.5,570 48,573.5"/>
<polyline stroke="#30e8b8" stroke-width="4.3" points="37,567.8 42,567 47.5,564.5 51,560.5"/>
<circle cx="40.8" cy="568.1" r="1.5" fill="#dce232"/>
<circle cx="47.2" cy="573.2" r="1.7" fill="#44e052"/>
<circle cx="45" cy="571" r="1.3" fill="#dce232"/>
<circle cx="48.5" cy="577" r="1.6" fill="#44e052"/>
<polyline stroke="#2cdcf2" stroke-width="2.9" points="47.2,580 45.5,588 44.6,593.6 47,600 49.1,605.1"/>
<circle cx="49.1" cy="605.1" r="2.2" fill="#2cdcf2"/>
<circle cx="51" cy="612.7" r="1.4" fill="#2cdcf2"/>
<circle cx="41" cy="589" r="1.5" fill="#2a78ea"/>
<polyline stroke="#2cdcf2" stroke-width="3.1" points="57.4,546.5 56.5,551.5 56.1,556.7"/>
<polyline stroke="#44e052" stroke-width="2.6" points="61.2,545.2 65,546.5"/>
<circle cx="59" cy="545" r="1.7" fill="#30e8b8"/>
<polyline stroke="#2cdcf2" stroke-width="2.3" points="60,548 63,552 67,553"/>
<polyline stroke="#2cdcf2" stroke-width="2.6" points="54.8,556.7 59,563 63.7,569.4 69.5,576 75.2,582.2 80,586.5 84.1,589.8"/>
<polyline stroke="#2cdcf2" stroke-width="2.5" points="61.2,554.1 66.5,558.5 71.4,563 74,567.5 76.5,572 80,575 84.1,577"/>
<polyline stroke="#2cdcf2" stroke-width="2.2" points="57,561 62,558 66,563 63,567"/>
<polyline stroke="#2cdcf2" stroke-width="2.5" points="54.8,580.9 63,578.5 71.4,577 78,576.3 84.1,575.8"/>
<polyline stroke="#2a78ea" stroke-width="2.6" points="84.1,575.8 93,573.3 102,570.7 113.4,568.1 124.9,565"/>
<polyline stroke="#2cdcf2" stroke-width="2.6" points="89.2,578.3 90.6,584 91.8,589.8"/>
<polyline stroke="#2cdcf2" stroke-width="2.3" points="84.5,577.5 85.5,584 86,589"/>
<polyline stroke="#2a78ea" stroke-width="2.6" points="66.3,594.3 76,592 86.7,589.8"/>
<polyline stroke="#2a78ea" stroke-width="2.3" points="68.8,551.6 79,553.6 89.2,555.4 96,557"/>
<circle cx="73" cy="562" r="1.4" fill="#2cdcf2"/>
<circle cx="64.5" cy="570.5" r="1.4" fill="#2cdcf2"/>
<circle cx="75.5" cy="582.5" r="1.4" fill="#2cdcf2"/>
<circle cx="123.6" cy="583.4" r="1.3" fill="#2a78ea"/>
<circle cx="122.4" cy="595" r="1.3" fill="#2a78ea"/>
<circle cx="122.4" cy="611.5" r="1.2" fill="#2a78ea"/>
<polyline stroke="#2a78ea" stroke-width="1.5" points="62,581 62.5,589"/>
<circle cx="165.4" cy="590" r="1.2" fill="#2a78ea"/>
<circle cx="115" cy="640" r="1.2" fill="#2a78ea"/>
</g></g>
</g>
<g filter="url(#softl)">
<line class="rl" x1="52" y1="558" x2="52" y2="680"/>
<line class="rl" x1="114" y1="557" x2="114" y2="680"/>
<line class="rl" x1="165.5" y1="559" x2="165.5" y2="680"/>
</g>
<text class="cap" x="112.5" y="695.4" textLength="150" lengthAdjust="spacingAndGlyphs">Loading depth = 6 nm</text>
</g>
<g id="c4">
<g filter="url(#rough)">
<path class="bk" style="fill:url(#tg)" d="M256.3 567.9 L269.1 567.2 L281.9 568.8 L288.2 568.8 L301 569.4 L307.4 564.3 L313.7 555.4 L316.3 547.7 L318.2 545 L320.7 543.9 L323.6 544.6 L326.5 546.5 L331.6 550.9 L345.6 554.1 L358.3 557.9 L364.7 558.6 L371.1 557.3 L377.5 557 L400 559.5 L414 561.5 L420 559.5 L428 558.5 L460 559.5 L485.3 560.8 L482.4 604 L479.4 643.5 L476.5 679.5 L251.7 679.5 L252.3 653.5 L253.3 614 Z"/>
<clipPath id="cc4"><path d="M256.3 567.9 L269.1 567.2 L281.9 568.8 L288.2 568.8 L301 569.4 L307.4 564.3 L313.7 555.4 L316.3 547.7 L318.2 545 L320.7 543.9 L323.6 544.6 L326.5 546.5 L331.6 550.9 L345.6 554.1 L358.3 557.9 L364.7 558.6 L371.1 557.3 L377.5 557 L400 559.5 L414 561.5 L420 559.5 L428 558.5 L460 559.5 L485.3 560.8 L482.4 604 L479.4 643.5 L476.5 679.5 L251.7 679.5 L252.3 653.5 L253.3 614 Z"/></clipPath>
<g clip-path="url(#cc4)"><g filter="url(#b1)" fill="none" stroke-linecap="round" stroke-linejoin="round">
<polygon fill="#2cdcf2" fill-opacity="0.18" points="307.4,564.3 313.7,555.4 316.3,547.7 320.7,543.9 326.5,546.5 331.6,550.9 345.6,554.1 358.3,557.9 350,561 338,562 326,564 314,568 306,571"/>
<polyline stroke="#30e8b8" stroke-width="3.1" points="285.7,570.7 292,570.3 298,571"/>
<circle cx="287" cy="571.5" r="1.5" fill="#44e052"/>
<polyline stroke="#ea3020" stroke-width="2.5" points="300.3,571.3 302.5,573"/>
<polyline stroke="#2cdcf2" stroke-width="2.9" points="303,569.5 307.4,565.3 311,560 314,555"/>
<polyline stroke="#44e052" stroke-width="2.2" points="315,551.6 316.5,548.5"/>
<polyline stroke="#2cdcf2" stroke-width="2.8" points="318.5,546 321,545.3 324,546.5"/>
<polyline stroke="#44e052" stroke-width="2.3" points="306.1,572 313,569.5 320,566.7 327.7,563.7"/>
<polyline stroke="#30e8b8" stroke-width="2.2" points="326.5,547.5 332,551.8 339,553.6 345.6,555.1 352,557 358.3,558.7"/>
<circle cx="329" cy="549.5" r="1.2" fill="#44e052"/>
<circle cx="337" cy="553" r="1.2" fill="#44e052"/>
<circle cx="347" cy="555.5" r="1.2" fill="#44e052"/>
<circle cx="357.8" cy="558.2" r="1.3" fill="#44e052"/>
<polyline stroke="#2cdcf2" stroke-width="2.5" points="326.5,561.8 335,560.8 344,560 352,559.5"/>
<polyline stroke="#2a78ea" stroke-width="2.6" points="318,552 324,555 332,557 342,558"/>
<polyline stroke="#2cdcf2" stroke-width="2.3" points="309,563 314,562 320,559"/>
<polyline stroke="#2cdcf2" stroke-width="2.6" points="303.5,573.2 308.5,578 313.7,583.4 316,589 317.5,594.9"/>
<polyline stroke="#2cdcf2" stroke-width="2.2" points="293.3,587.9 297.2,588.5"/>
<polyline stroke="#2cdcf2" stroke-width="2.5" points="298.4,573.2 299.4,580 299.7,586 299.2,592"/>
<polyline stroke="#2a78ea" stroke-width="2" points="299,592 298.4,598.7"/>
<polyline stroke="#2a78ea" stroke-width="2.3" points="313.7,575.8 312.4,581 311.2,586"/>
<polyline stroke="#2a78ea" stroke-width="2.3" points="292,574 295,580"/>
<polyline stroke="#2a78ea" stroke-width="2.2" points="326.5,586 334.1,586"/>
<polyline stroke="#2a78ea" stroke-width="2.2" points="346.9,588.5 355.8,586"/>
<polyline stroke="#2a78ea" stroke-width="1.9" points="321,581 329,583"/>
<circle cx="315" cy="596.2" r="1.5" fill="#2cdcf2"/>
<circle cx="298.5" cy="604" r="1.3" fill="#2a78ea"/>
<circle cx="375.5" cy="566.9" r="1.4" fill="#44e052"/>
<polyline stroke="#2cdcf2" stroke-width="2.3" points="372.4,560.5 375,568 376,574 376.2,579.6"/>
<polyline stroke="#2a78ea" stroke-width="1.9" points="368.5,562 369.5,568"/>
<circle cx="416" cy="614" r="1.3" fill="#2cdcf2"/>
<circle cx="415" cy="619" r="1.3" fill="#2a78ea"/>
<circle cx="366" cy="648" r="1.2" fill="#2a78ea"/>
</g></g>
</g>
<g filter="url(#softl)">
<line class="rl" x1="302.5" y1="569" x2="302.5" y2="680"/>
<line class="rl" x1="365.5" y1="559" x2="365.5" y2="680"/>
<line class="rl" x1="418" y1="562" x2="418" y2="680"/>
</g>
<text class="cap" x="361" y="694.4" textLength="150" lengthAdjust="spacingAndGlyphs">Loading depth = 7 nm</text>
</g>
<g id="d1">
<g filter="url(#rough)">
<path class="bk" style="fill:url(#tg)" d="M549.4 398.9 L553.8 396.6 L563.6 398.6 L569.6 397.1 L575.5 390.7 L579.4 382.8 L581.2 380.3 L583.3 379.4 L585.4 379.9 L587.3 381.3 L590.2 385.8 L593.2 387.7 L599.1 385.6 L609 385.8 L638.5 387.6 L655 387.8 L700 389 L710 389 L714 387.5 L740 389 L776.6 390.8 L774.7 434 L772.7 473.6 L770.7 513.7 L543.8 513.7 L544 478.5 L545.4 439 Z"/>
<clipPath id="cd1"><path d="M549.4 398.9 L553.8 396.6 L563.6 398.6 L569.6 397.1 L575.5 390.7 L579.4 382.8 L581.2 380.3 L583.3 379.4 L585.4 379.9 L587.3 381.3 L590.2 385.8 L593.2 387.7 L599.1 385.6 L609 385.8 L638.5 387.6 L655 387.8 L700 389 L710 389 L714 387.5 L740 389 L776.6 390.8 L774.7 434 L772.7 473.6 L770.7 513.7 L543.8 513.7 L544 478.5 L545.4 439 Z"/></clipPath>
<g clip-path="url(#cd1)"><g filter="url(#b1)" fill="none" stroke-linecap="round" stroke-linejoin="round">
<polygon fill="#2cdcf2" fill-opacity="0.47" points="569.6,397.3 575.5,390.7 579.4,382.8 583.3,379.4 587.3,381.3 590.2,385.8 593,388 590,393 586,399 580,403 572,402.5"/>
<polygon fill="#30e8b8" fill-opacity="0.4" points="550.5,399.3 553.8,396.8 563.6,398.8 569.6,397.3 572,402.5 562,403 553,403"/>
<polyline stroke="#2cdcf2" stroke-width="3.4" points="550.8,400.5 553,402"/>
<circle cx="557.7" cy="399.1" r="1.7" fill="#ea3020"/>
<circle cx="560.5" cy="399.6" r="1.9" fill="#f08422"/>
<circle cx="564.6" cy="399.3" r="1.5" fill="#f08422"/>
<circle cx="562.5" cy="400.3" r="1.4" fill="#dce232"/>
<polyline stroke="#30e8b8" stroke-width="4" points="552.5,398.3 557,400.3 563.6,400.5 569.6,399.6"/>
<polyline stroke="#2cdcf2" stroke-width="5.3" points="571,398.6 575.5,394 579,388.5 582,384"/>
<polyline stroke="#2cdcf2" stroke-width="5" points="583,382.5 586,384.5 588.5,388 590,390.5"/>
<polyline stroke="#2cdcf2" stroke-width="4.3" points="577,394 582,392 587,392.5"/>
<circle cx="583.3" cy="381" r="1.7" fill="#44e052"/>
<circle cx="576.5" cy="396.6" r="1.6" fill="#44e052"/>
<circle cx="580.4" cy="400.5" r="1.7" fill="#44e052"/>
<circle cx="582.4" cy="382.8" r="1.5" fill="#44e052"/>
<circle cx="585" cy="387" r="1.5" fill="#44e052"/>
<circle cx="586.3" cy="390.2" r="1.4" fill="#dce232"/>
<circle cx="592.2" cy="388.2" r="1.4" fill="#f08422"/>
<circle cx="588.3" cy="386" r="1.3" fill="#dce232"/>
<polyline stroke="#2cdcf2" stroke-width="3.2" points="569.6,401.5 577,402.3 585.3,401.5"/>
<polyline stroke="#2a78ea" stroke-width="2.2" points="574.5,409.9 581.4,409.4"/>
<circle cx="576" cy="409.7" r="1.3" fill="#2cdcf2"/>
<polyline stroke="#2a78ea" stroke-width="1.9" points="579.4,415.3 582,416"/>
<polyline stroke="#2a78ea" stroke-width="1.9" points="560.7,414 560.2,418"/>
<polyline stroke="#2a78ea" stroke-width="1.9" points="581.4,424.2 586.3,423.2"/>
<circle cx="584.3" cy="430.1" r="1.3" fill="#2a78ea"/>
<polyline stroke="#2cdcf2" stroke-width="1.9" points="583.3,439 590.2,439"/>
<circle cx="568.6" cy="439" r="1.2" fill="#2a78ea"/>
<circle cx="570" cy="439" r="1.3" fill="#2a78ea"/>
<circle cx="590" cy="451" r="1.3" fill="#2cdcf2"/>
<polyline stroke="#2a78ea" stroke-width="1.5" points="554,410 556,414"/>
<circle cx="665" cy="401" r="1.3" fill="#2cdcf2"/>
<circle cx="665" cy="407.5" r="1.3" fill="#2cdcf2"/>
<circle cx="660" cy="415" r="1.4" fill="#2cdcf2"/>
<circle cx="660" cy="420" r="1.3" fill="#2cdcf2"/>
<circle cx="659" cy="501" r="1.2" fill="#2a78ea"/>
<circle cx="714" cy="387.5" r="1.5" fill="#30e8b8"/>
<circle cx="707" cy="400" r="1.5" fill="#2cdcf2"/>
<circle cx="707" cy="424" r="1.3" fill="#2a78ea"/>
<circle cx="708" cy="412" r="1.2" fill="#2a78ea"/>
<circle cx="709" cy="467.5" r="1.4" fill="#2cdcf2"/>
<circle cx="714.5" cy="507" r="1.5" fill="#2cdcf2"/>
</g></g>
</g>
<g filter="url(#softl)">
<line class="rl" x1="601" y1="392" x2="601" y2="514"/>
<line class="rl" x1="660" y1="391" x2="660" y2="514"/>
<line class="rl" x1="714" y1="391" x2="714" y2="514"/>
</g>
<text class="cap" x="654" y="528.4" textLength="150" lengthAdjust="spacingAndGlyphs">Loading depth = 4 nm</text>
</g>
<g id="d2">
<g filter="url(#rough)">
<path class="bk" style="fill:url(#tg)" d="M795 399.7 L804.7 398.1 L814.6 399.6 L819.5 399.6 L826.4 395.6 L831.3 389.7 L834.3 381.8 L836 379.7 L838.2 378.9 L841 379.1 L844.1 379.9 L850 383.8 L854 384.8 L863.8 385.3 L883.5 387.7 L920 388.5 L950 389.5 L956 388 L963 387.5 L990 389 L1021.8 391.7 L1020 434 L1017.9 473.5 L1015.5 514 L790 514 L790.8 473.6 L792.4 434 Z"/>
<clipPath id="cd2"><path d="M795 399.7 L804.7 398.1 L814.6 399.6 L819.5 399.6 L826.4 395.6 L831.3 389.7 L834.3 381.8 L836 379.7 L838.2 378.9 L841 379.1 L844.1 379.9 L850 383.8 L854 384.8 L863.8 385.3 L883.5 387.7 L920 388.5 L950 389.5 L956 388 L963 387.5 L990 389 L1021.8 391.7 L1020 434 L1017.9 473.5 L1015.5 514 L790 514 L790.8 473.6 L792.4 434 Z"/></clipPath>
<g clip-path="url(#cd2)"><g filter="url(#b1)" fill="none" stroke-linecap="round" stroke-linejoin="round">
<polygon fill="#2cdcf2" fill-opacity="0.32" points="826.4,395.6 831.3,389.7 834.3,381.8 838.2,378.9 844.1,379.9 850,383.8 852,390 846,393 836,394 828,399"/>
<polyline stroke="#2cdcf2" stroke-width="2.6" points="798,400.5 804.7,399.8"/>
<polyline stroke="#44e052" stroke-width="4" points="811.5,400.3 814.6,401.5 818.5,400.8"/>
<polyline stroke="#30e8b8" stroke-width="3.1" points="807,399.5 811,400"/>
<polyline stroke="#2cdcf2" stroke-width="3.4" points="821,399.3 826.4,396.3 831.3,390.7 833.8,385"/>
<circle cx="834.5" cy="384.8" r="1.5" fill="#44e052"/>
<circle cx="832" cy="391.5" r="1.4" fill="#44e052"/>
<polyline stroke="#2cdcf2" stroke-width="2.8" points="835.5,382 838.2,380.3 841.5,380.8"/>
<polyline stroke="#44e052" stroke-width="2.8" points="844.1,381.8 847,383.3 849,384.8"/>
<circle cx="848" cy="388.7" r="2" fill="#44e052"/>
<polyline stroke="#2cdcf2" stroke-width="3.1" points="832.3,391.7 839,391.4 846.1,390.7"/>
<polyline stroke="#2cdcf2" stroke-width="2.5" points="838.5,383 841,387 845,389.8"/>
<polyline stroke="#30e8b8" stroke-width="3.1" points="814.6,402.5 817.5,406 820.5,409.4"/>
<polyline stroke="#2cdcf2" stroke-width="2.8" points="820.5,409.4 823.5,413 826.4,416.3 827,422 827.4,427.1 829,430.5 830.3,434 831.8,439 833.3,443.9"/>
<polyline stroke="#2cdcf2" stroke-width="2.2" points="819,420.7 822,421.7"/>
<polyline stroke="#2a78ea" stroke-width="3.7" points="838.2,395.6 838.6,401.5 839.2,407.4"/>
<polyline stroke="#2a78ea" stroke-width="2.8" points="851,391.7 852.5,397 854,402.5 859.9,403.5"/>
<polyline stroke="#2a78ea" stroke-width="3.2" points="863.8,392.5 864.6,402.5 866.8,412 868,417.5"/>
<circle cx="864.2" cy="403" r="1.5" fill="#2cdcf2"/>
<polyline stroke="#2cdcf2" stroke-width="1.7" points="876.5,416 878.8,415.6"/>
<polyline stroke="#2a78ea" stroke-width="1.7" points="843,396 843.5,404"/>
<circle cx="908.5" cy="421" r="1.3" fill="#2cdcf2"/>
<circle cx="908.5" cy="432.5" r="1.3" fill="#2a78ea"/>
<circle cx="909" cy="470" r="1.4" fill="#2cdcf2"/>
<circle cx="904" cy="502.5" r="1.3" fill="#2cdcf2"/>
<circle cx="908.6" cy="445" r="1.2" fill="#2a78ea"/>
<circle cx="954" cy="476" r="1.4" fill="#2cdcf2"/>
<circle cx="848.5" cy="499" r="1.4" fill="#2cdcf2"/>
<circle cx="797" cy="416" r="1.2" fill="#2a78ea"/>
<circle cx="800" cy="421" r="1.2" fill="#2a78ea"/>
</g></g>
</g>
<g filter="url(#softl)">
<line class="rl" x1="847" y1="392" x2="847" y2="514"/>
<line class="rl" x1="907" y1="391" x2="907" y2="514"/>
<line class="rl" x1="961" y1="391" x2="961" y2="514"/>
</g>
<text class="cap" x="899" y="529.4" textLength="150" lengthAdjust="spacingAndGlyphs">Loading depth = 5 nm</text>
</g>
<g id="d3">
<g filter="url(#rough)">
<path class="bk" style="fill:url(#tg)" d="M550.3 561.9 L555.3 561.1 L569.3 561.1 L578.2 563.7 L584.6 563 L592.3 557.9 L597.4 551.6 L598.6 546 L599.6 542.8 L608.8 543.3 L621.6 543.9 L631.8 546.5 L642 549 L654.7 551.6 L659.8 552.2 L667.5 551.8 L690 553.5 L705 554 L712 552.5 L720 552 L750 553.5 L775.6 555.4 L774 599 L771.3 638.6 L770.3 677.3 L544 677.3 L544.4 643.5 L546.4 604 Z"/>
<clipPath id="cd3"><path d="M550.3 561.9 L555.3 561.1 L569.3 561.1 L578.2 563.7 L584.6 563 L592.3 557.9 L597.4 551.6 L598.6 546 L599.6 542.8 L608.8 543.3 L621.6 543.9 L631.8 546.5 L642 549 L654.7 551.6 L659.8 552.2 L667.5 551.8 L690 553.5 L705 554 L712 552.5 L720 552 L750 553.5 L775.6 555.4 L774 599 L771.3 638.6 L770.3 677.3 L544 677.3 L544.4 643.5 L546.4 604 Z"/></clipPath>
<g clip-path="url(#cd3)"><g filter="url(#b1)" fill="none" stroke-linecap="round" stroke-linejoin="round">
<polygon fill="#2cdcf2" fill-opacity="0.12" points="592.3,557.9 597.4,551.6 599.6,543 608.8,543.5 621.6,544 631.8,546.7 642,549.2 652,551.5 650,558 640,564 628,568 612,572 600,576 592,572 586,566"/>
<polyline stroke="#44e052" stroke-width="3.4" points="575.5,564.8 577.5,567.2"/>
<circle cx="578.2" cy="568.8" r="1.4" fill="#dce232"/>
<circle cx="573.1" cy="570.7" r="1.6" fill="#2cdcf2"/>
<circle cx="571" cy="564" r="1.6" fill="#2cdcf2"/>
<polyline stroke="#2cdcf2" stroke-width="3.7" points="584.6,565.6 588,569 591,572 596.1,573.2"/>
<circle cx="589.7" cy="569.4" r="1.9" fill="#44e052"/>
<circle cx="586" cy="566.5" r="1.4" fill="#44e052"/>
<polyline stroke="#2cdcf2" stroke-width="3.1" points="596.1,556.7 595.5,562 594.8,566.9"/>
<polyline stroke="#2cdcf2" stroke-width="2.5" points="590,561 592.5,565 594,570"/>
<polyline stroke="#2cdcf2" stroke-width="2.9" points="599.9,549 605,548.2 611.4,547.7 616.5,547 621.6,546.5 629.2,547.1"/>
<polyline stroke="#2a78ea" stroke-width="2.8" points="601.2,551.6 608,551.5 616.5,551"/>
<polyline stroke="#2cdcf2" stroke-width="2.2" points="608,545 612,549.5"/>
<polyline stroke="#2cdcf2" stroke-width="2.2" points="620,545.5 624,549"/>
<circle cx="628.5" cy="546.3" r="1.4" fill="#30e8b8"/>
<polyline stroke="#2cdcf2" stroke-width="3.9" points="601.2,565.6 608,563.6 616.5,562.4 623,562.2 629.2,562.4"/>
<polyline stroke="#2a78ea" stroke-width="3.4" points="601.2,572 606,569.8 611.4,568.1 620,566.5 629.2,565.6"/>
<polyline stroke="#2cdcf2" stroke-width="2.9" points="603.7,583.4 610,580.5 616.5,578.3 623,576.8 629.2,575.8"/>
<circle cx="608.8" cy="582.2" r="1.7" fill="#44e052"/>
<circle cx="605.5" cy="583.7" r="1.6" fill="#30e8b8"/>
<polyline stroke="#2a78ea" stroke-width="3.4" points="634.3,560.5 634.3,566 634.3,572"/>
<polyline stroke="#2a78ea" stroke-width="2.9" points="638.1,551.6 637.5,559 636.8,566.9"/>
<polyline stroke="#2a78ea" stroke-width="3.2" points="648.3,556.7 649,564 649.6,572"/>
<polyline stroke="#2cdcf2" stroke-width="2.5" points="639.4,560.5 644,557.8 648.3,555.4"/>
<polyline stroke="#2a78ea" stroke-width="2.2" points="630,553 636,556"/>
<polyline stroke="#2a78ea" stroke-width="2" points="643,551 646,557"/>
<polyline stroke="#2a78ea" stroke-width="2" points="634.3,579.6 634.9,586"/>
<polyline stroke="#2cdcf2" stroke-width="2.5" points="584.6,601.3 587.5,606 590.3,611.5"/>
<circle cx="589.8" cy="611.5" r="1.5" fill="#2cdcf2"/>
<polyline stroke="#2a78ea" stroke-width="2.2" points="559.1,586 568,588.5"/>
<polyline stroke="#2a78ea" stroke-width="2.2" points="564.2,602.5 571.9,604.5"/>
<circle cx="552" cy="584" r="1.3" fill="#2a78ea"/>
<circle cx="589" cy="624" r="1.2" fill="#2a78ea"/>
<circle cx="663" cy="586" r="1.5" fill="#2cdcf2"/>
<circle cx="665.5" cy="588.5" r="1.4" fill="#2cdcf2"/>
<circle cx="665" cy="596" r="1.3" fill="#2a78ea"/>
<circle cx="664.5" cy="611" r="1.2" fill="#2a78ea"/>
</g></g>
</g>
<g filter="url(#softl)">
<line class="rl" x1="599.5" y1="556" x2="599.5" y2="677.5"/>
<line class="rl" x1="659" y1="556" x2="659" y2="677.5"/>
<line class="rl" x1="712.5" y1="556" x2="712.5" y2="677.5"/>
</g>
<text class="cap" x="654" y="692.9" textLength="150" lengthAdjust="spacingAndGlyphs">Loading depth = 6 nm</text>
</g>
<g id="d4">
<g filter="url(#rough)">
<path class="bk" style="fill:url(#tg)" d="M792.4 564.7 L804.1 562.4 L816.9 565 L829.6 566.2 L839.8 564.3 L846.2 559.9 L850 554.1 L851.5 548 L852.8 543.9 L861.5 542.6 L874.2 543.9 L884.4 546.5 L893.3 550.3 L903.5 552.2 L912.5 552.8 L925 554.5 L945 556 L952 555 L960 554 L990 555.5 L1021 556.7 L1020 599 L1017.9 638.5 L1015.5 678 L789.4 678 L789.4 638.6 L790.4 599 Z"/>
<clipPath id="cd4"><path d="M792.4 564.7 L804.1 562.4 L816.9 565 L829.6 566.2 L839.8 564.3 L846.2 559.9 L850 554.1 L851.5 548 L852.8 543.9 L861.5 542.6 L874.2 543.9 L884.4 546.5 L893.3 550.3 L903.5 552.2 L912.5 552.8 L925 554.5 L945 556 L952 555 L960 554 L990 555.5 L1021 556.7 L1020 599 L1017.9 638.5 L1015.5 678 L789.4 678 L789.4 638.6 L790.4 599 Z"/></clipPath>
<g clip-path="url(#cd4)"><g filter="url(#b1)" fill="none" stroke-linecap="round" stroke-linejoin="round">
<polygon fill="#2cdcf2" fill-opacity="0.12" points="846.2,559.9 850,554.1 852.8,544 861.5,542.8 874.2,544 884.4,546.7 893.3,550.5 903.5,552.4 902,562 888,566 870,568 856,568 848,566"/>
<polygon fill="#44e052" fill-opacity="0.36" points="823,566 829.6,566.4 839.8,564.6 846.5,560.5 847,574 842,580 836,582 831,574 826,569"/>
<polyline stroke="#44e052" stroke-width="2.8" points="812,565.3 814.3,565.8"/>
<circle cx="814.5" cy="565.3" r="1.2" fill="#dce232"/>
<circle cx="811.8" cy="572" r="1.6" fill="#2cdcf2"/>
<circle cx="810" cy="567" r="1.4" fill="#2cdcf2"/>
<polyline stroke="#44e052" stroke-width="5" points="825,566.3 830,567 836,567.5 841.5,567"/>
<polyline stroke="#44e052" stroke-width="4" points="831.5,570.5 834.5,574.5 836.5,579.5"/>
<polyline stroke="#dce232" stroke-width="3.1" points="839.5,567.5 842.5,568.6"/>
<circle cx="827.1" cy="566.2" r="1.5" fill="#dce232"/>
<circle cx="836" cy="580.9" r="1.4" fill="#dce232"/>
<circle cx="843" cy="564.7" r="1.2" fill="#f08422"/>
<circle cx="833" cy="569.5" r="1.3" fill="#dce232"/>
<polyline stroke="#2cdcf2" stroke-width="3.4" points="839,571.5 843,575 845,578.5"/>
<polyline stroke="#2cdcf2" stroke-width="2.6" points="836,583.5 838,584"/>
<polyline stroke="#2cdcf2" stroke-width="2.9" points="846.5,560 849.5,556"/>
<polyline stroke="#2cdcf2" stroke-width="2.9" points="853.8,546.5 855.3,551 856.4,555.4"/>
<polyline stroke="#2cdcf2" stroke-width="2.8" points="866.6,546.5 867.3,549.5 867.8,552.8 872,555.5 876.8,557.9"/>
<polyline stroke="#2cdcf2" stroke-width="3.7" points="867.8,560.5 875,558.5 881.9,556.7"/>
<circle cx="876.8" cy="556.6" r="1.5" fill="#44e052"/>
<circle cx="880.5" cy="553.5" r="1.6" fill="#30e8b8"/>
<polyline stroke="#2cdcf2" stroke-width="2.3" points="857,545 862,546.5 866,545.3"/>
<polyline stroke="#2cdcf2" stroke-width="2.2" points="872,546.5 876,550 880,551.5"/>
<polyline stroke="#2a78ea" stroke-width="3.1" points="851.3,563 862,564.6 874.2,565.6 887,564.5 899.7,563"/>
<polyline stroke="#2a78ea" stroke-width="2.6" points="892.1,555.4 893,560.5"/>
<polyline stroke="#2cdcf2" stroke-width="2.5" points="902.3,554.1 903.5,558 904.8,561.8"/>
<polyline stroke="#2a78ea" stroke-width="2.6" points="884,551 886,557"/>
<polyline stroke="#2a78ea" stroke-width="2.3" points="858,556 862,559.5"/>
<polyline stroke="#2cdcf2" stroke-width="2.8" points="851.3,583.4 859,582.6 866.6,582.2 873,579.8 879.3,577"/>
<polyline stroke="#2a78ea" stroke-width="2.8" points="879.3,577 889.5,574.3 899.7,572"/>
<circle cx="867.8" cy="578.3" r="1.4" fill="#dce232"/>
<circle cx="871.7" cy="579.6" r="1.5" fill="#44e052"/>
<circle cx="865.5" cy="581.5" r="1.5" fill="#30e8b8"/>
<polyline stroke="#2cdcf2" stroke-width="2.2" points="878,582.8 880,587.3"/>
<polyline stroke="#2a78ea" stroke-width="2.5" points="853.8,573.2 853,578 852.6,582.2"/>
<polyline stroke="#2a78ea" stroke-width="2.2" points="811.8,583.4 820,587.5 829.6,591.7"/>
<circle cx="833.4" cy="608.3" r="1.5" fill="#2cdcf2"/>
<circle cx="829" cy="601.3" r="1.3" fill="#2a78ea"/>
<circle cx="836" cy="617.8" r="1.3" fill="#2a78ea"/>
<circle cx="842.4" cy="630" r="1.2" fill="#2a78ea"/>
<circle cx="818.5" cy="579.5" r="1.3" fill="#2cdcf2"/>
<polyline stroke="#2cdcf2" stroke-width="2.5" points="909.3,560.5 910,566 910.5,572"/>
<polyline stroke="#2a78ea" stroke-width="1.9" points="908,575 908,590"/>
<circle cx="908" cy="650" r="1.4" fill="#2cdcf2"/>
<circle cx="908" cy="627.5" r="1.2" fill="#2a78ea"/>
<circle cx="907.5" cy="610" r="1.2" fill="#2a78ea"/>
<circle cx="953.5" cy="632.5" r="1.3" fill="#2cdcf2"/>
<circle cx="953.5" cy="642" r="1.3" fill="#2cdcf2"/>
<circle cx="949" cy="590" r="1.2" fill="#2a78ea"/>
</g></g>
</g>
<g filter="url(#softl)">
<line class="rl" x1="848" y1="558" x2="848" y2="678"/>
<line class="rl" x1="907" y1="555" x2="907" y2="678"/>
<line class="rl" x1="961" y1="557" x2="961" y2="678"/>
</g>
<text class="cap" x="899" y="694.4" textLength="150" lengthAdjust="spacingAndGlyphs">Loading depth = 7 nm</text>
</g>
<text class="lab" x="4.9" y="17.3">(a)</text>
<text class="lab" x="550.3" y="17.5">(b)</text>
<text class="lab" x="4.9" y="372.2">(c)</text>
<text class="lab" x="548.1" y="369.5">(d)</text>
<g id="colorbar">
<rect x="2.5" y="708" width="226.5" height="16.5" fill="url(#cb)"/>
<line x1="12.7" y1="708" x2="12.7" y2="724.5" stroke="#303838" stroke-width="0.7" opacity="0.75"/>
<text class="tick" x="12.7" y="738">2</text>
<line x1="32.4" y1="708" x2="32.4" y2="724.5" stroke="#303838" stroke-width="0.7" opacity="0.75"/>
<text class="tick" x="32.4" y="738">3</text>
<line x1="52" y1="708" x2="52" y2="724.5" stroke="#303838" stroke-width="0.7" opacity="0.75"/>
<text class="tick" x="52" y="738">4</text>
<line x1="71.7" y1="708" x2="71.7" y2="724.5" stroke="#303838" stroke-width="0.7" opacity="0.75"/>
<text class="tick" x="71.7" y="738">5</text>
<line x1="91.4" y1="708" x2="91.4" y2="724.5" stroke="#303838" stroke-width="0.7" opacity="0.75"/>
<text class="tick" x="91.4" y="738">6</text>
<line x1="111" y1="708" x2="111" y2="724.5" stroke="#303838" stroke-width="0.7" opacity="0.75"/>
<text class="tick" x="111" y="738">7</text>
<line x1="130.7" y1="708" x2="130.7" y2="724.5" stroke="#303838" stroke-width="0.7" opacity="0.75"/>
<text class="tick" x="130.7" y="738">8</text>
<line x1="150.3" y1="708" x2="150.3" y2="724.5" stroke="#303838" stroke-width="0.7" opacity="0.75"/>
<text class="tick" x="150.3" y="738">9</text>
<line x1="170" y1="708" x2="170" y2="724.5" stroke="#303838" stroke-width="0.7" opacity="0.75"/>
<text class="tick" x="170" y="738">10</text>
<line x1="189.7" y1="708" x2="189.7" y2="724.5" stroke="#303838" stroke-width="0.7" opacity="0.75"/>
<text class="tick" x="189.7" y="738">11</text>
<line x1="209.3" y1="708" x2="209.3" y2="724.5" stroke="#303838" stroke-width="0.7" opacity="0.75"/>
<text class="tick" x="209.3" y="738">12</text>
<text class="tick" x="229" y="738">13</text>
<text class="ttl" x="45.9" y="755.5">Slip vector&#160;&#160;(&#197;)</text>
</g>
</svg>
</body></html>
